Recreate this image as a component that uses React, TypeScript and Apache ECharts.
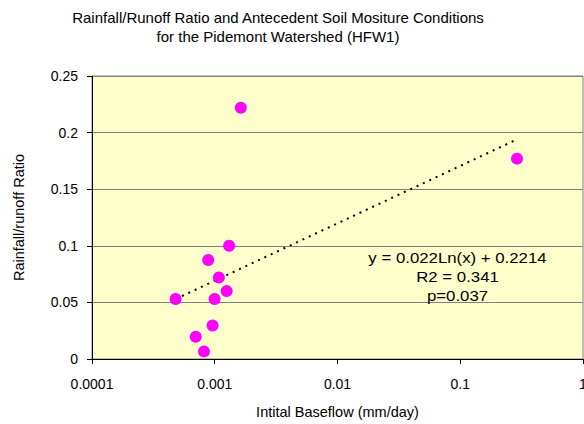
import React, { useEffect, useRef } from "react";
import * as echarts from "echarts";

const titleLines = [
  "Rainfall/Runoff Ratio and Antecedent Soil Mositure Conditions",
  "for the Pidemont Watershed (HFW1)",
];
const xTickLabels = ["0.0001", "0.001", "0.01", "0.1", "1"];
const baseflow = [0.00163, 0.00131, 0.000885, 0.00108, 0.00125, 0.00048, 0.000998, 0.00096, 0.0007, 0.000817, 0.29];
const ratio = [0.222, 0.1, 0.0875, 0.072, 0.06, 0.053, 0.053, 0.0296, 0.0197, 0.0067, 0.177];
const trendX = [0.00048, 0.29];
const trendY = [0.053, 0.194];
const equationLines = ["y = 0.022Ln(x) + 0.2214", "R2 = 0.341", "p=0.037"];

export default function App() {
  const ref = useRef<HTMLDivElement>(null);
  useEffect(() => {
    if (!ref.current) return;
    const chart = echarts.init(ref.current, null, { renderer: "svg" });
    const font = "Liberation Sans, Arial, sans-serif";
    chart.setOption({
      animation: false,
      backgroundColor: "#ffffff",
      textStyle: { fontFamily: font },
      title: {
        text: titleLines.join("\n"),
        left: 273,
        textAlign: "center",
        top: 3,
        textStyle: { fontSize: 15, fontWeight: "normal", color: "#000", lineHeight: 19, fontFamily: font },
      },
      grid: {
        left: 92,
        right: 1,
        top: 76,
        bottom: 65,
        outerBoundsMode: "none",
        containLabel: false,
        show: true,
        backgroundColor: "#FFFFCC",
        borderColor: "#808080",
        borderWidth: 1,
      },
      xAxis: {
        type: "log",
        logBase: 10,
        min: 0.0001,
        max: 1,
        name: "Intital Baseflow (mm/day)",
        nameLocation: "middle",
        nameGap: 45,
        nameTextStyle: { fontSize: 14.5, color: "#000", fontFamily: font },
        axisLine: { show: true, lineStyle: { color: "#000", width: 1 } },
        axisTick: { show: true, length: 5, lineStyle: { color: "#000" } },
        minorTick: { show: false },
        splitLine: { show: false },
        axisLabel: {
          fontSize: 14,
          color: "#000",
          margin: 18,
          fontFamily: font,
          formatter: (v: number) => xTickLabels[Math.round(Math.log10(v)) + 4] ?? "",
        },
      },
      yAxis: {
        type: "value",
        min: 0,
        max: 0.25,
        interval: 0.05,
        name: "Rainfall/runoff Ratio",
        nameLocation: "middle",
        nameGap: 66,
        nameTextStyle: { fontSize: 14.5, color: "#000", fontFamily: font },
        axisLine: { show: true, lineStyle: { color: "#000", width: 1 } },
        axisTick: { show: true, length: 5, lineStyle: { color: "#000" } },
        splitLine: { show: true, lineStyle: { color: "#808080", width: 1 } },
        axisLabel: { fontSize: 14, color: "#000", margin: 14, fontFamily: font },
      },
      series: [
        {
          type: "line",
          data: trendX.map((x, i) => [x, trendY[i]]),
          symbol: "none",
          lineStyle: { color: "#000", width: 2, type: [2, 5] },
          z: 2,
        },
        {
          type: "scatter",
          data: baseflow.map((x, i) => [x, ratio[i]]),
          symbol: "circle",
          symbolSize: 12,
          itemStyle: { color: "#FF00FF", opacity: 1 },
          z: 3,
        },
      ],
      graphic: [
        {
          type: "text",
          x: 457.5,
          y: 249,
          scaleX: 1.2,
          z: 10,
          style: {
            text: equationLines.join("\n"),
            fontSize: 14,
            lineHeight: 19,
            fill: "#000",
            align: "center",
            verticalAlign: "top",
            fontFamily: font,
          },
        },
      ],
    });
    return () => chart.dispose();
  }, []);
  return <div ref={ref} style={{ position: "absolute", left: 0, top: 0, width: 584, height: 424 }} />;
}
